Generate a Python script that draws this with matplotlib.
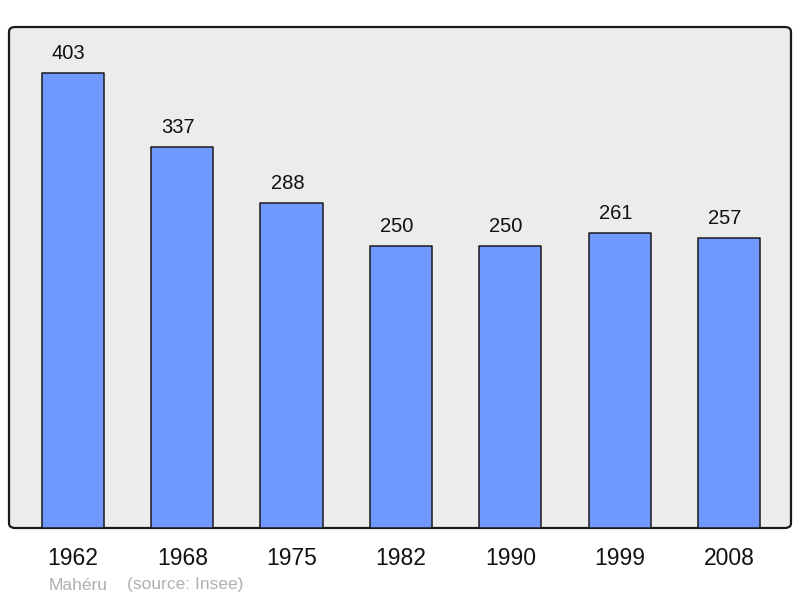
import matplotlib.pyplot as plt
from matplotlib.patches import FancyBboxPatch

years = ["1962", "1968", "1975", "1982", "1990", "1999", "2008"]
population = [403, 337, 288, 250, 250, 261, 257]

plt.rcParams['font.family'] = ['Liberation Sans', 'DejaVu Sans']

W, H = 800, 598
fig = plt.figure(figsize=(W / 100, H / 100), dpi=100)

# plot area in pixels: x 9..791, y 27..528 (from top)
ax = fig.add_axes([9 / W, (H - 528) / H, 782 / W, 501 / H])
ax.set_facecolor('none')
ax.set_zorder(2)

# rounded grey frame
frame = FancyBboxPatch((9 / W, (H - 528) / H), 782 / W, 501 / H,
                       boxstyle="round,pad=0,rounding_size=0.008",
                       transform=fig.transFigure, facecolor='#ececec',
                       edgecolor='#1a1a1a', linewidth=1.6, zorder=-1)
fig.patches.append(frame)

x = list(range(len(years)))
bars = ax.bar(x, population, width=0.57, color='#7099ff',
              edgecolor='#1a1a1a', linewidth=1.1, zorder=2)
for b in bars:
    b.set_joinstyle('round')

for xi, v in zip(x, population):
    ax.annotate(str(v), (xi, v), xytext=(-3, 14), textcoords='offset points',
                ha='center', va='center', fontsize=14.5, color='#111111')

ax.set_xlim(-0.585, 6.567)
ax.set_ylim(0, 443.5)
ax.set_xticks(x)
ax.set_xticklabels(years, fontsize=16.5, color='#111111')
ax.tick_params(axis='x', length=0, pad=14)
ax.set_yticks([])
for s in ax.spines.values():
    s.set_visible(False)

fig.text(49 / W, 1 - 585 / H, "Mahéru", fontsize=12.5, color='#b0b0b0',
         ha='left', va='center')
fig.text(127 / W, 1 - 585 / H, "(source: Insee)", fontsize=12.5, color='#b0b0b0',
         ha='left', va='center')

fig.savefig('out.png', dpi=100)
